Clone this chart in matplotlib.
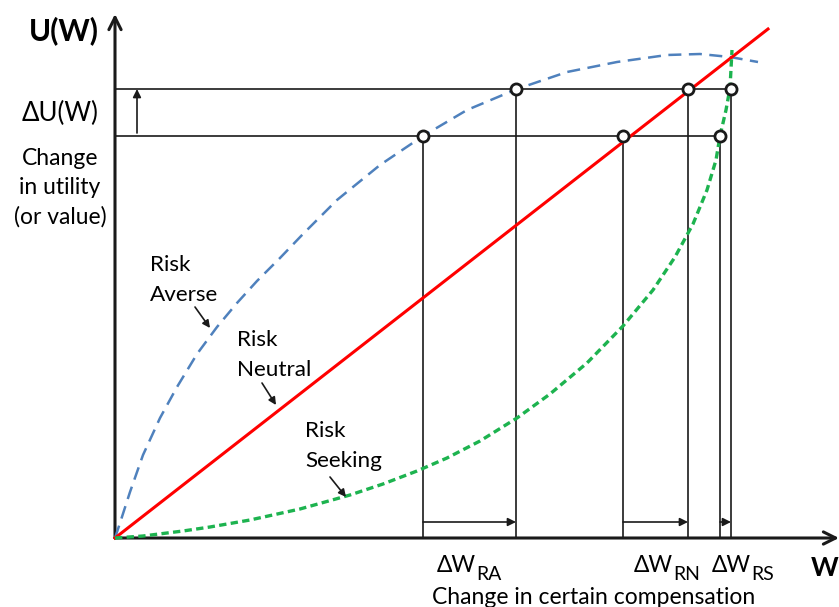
import numpy as np
import matplotlib.pyplot as plt

plt.rcParams['font.family'] = ['Lato', 'DejaVu Sans']

# ---------------------------------------------------------
# Curves (W, U(W)); origin at bottom-left
# ---------------------------------------------------------
averse_w = [0, 5, 15, 28, 45, 62, 82, 102, 122, 142, 165, 188, 222, 265, 308,
            352, 402, 452, 502, 552, 585, 615, 643]
averse_u = [0, 15, 46, 83, 120, 151, 184, 211, 235, 257, 280, 304, 338, 373, 402,
            428, 449, 466, 476, 483, 484, 481, 476]

neutral_w = [0, 653]
neutral_u = [0, 509]

seeking_w = [0, 28, 68, 95, 135, 185, 235, 268, 302, 332, 365, 402, 435, 472,
             508, 538, 560, 578, 592, 601, 605, 611, 615, 617]
seeking_u = [0, 2, 7, 11, 18, 29, 43, 54, 67, 80, 97, 120, 144, 175,
             212, 248, 281, 314, 348, 378, 402, 428, 450, 488]

# utility levels before / after the change
u_levels = [402, 449]
# certain compensation needed for each attitude (before, after)
w_ra = [308, 401]
w_rn = [508, 573]
w_rs = [605, 616]

fig = plt.figure(figsize=(8.39, 6.07), dpi=100)
ax = fig.add_axes([0, 0, 1, 1])
ax.set_xlim(-115, 724)
ax.set_ylim(-69, 538)
ax.axis('off')

blue = '#4f81bd'
green = '#1db34f'
red = '#ff0000'
black = '#1a1a1a'

# axes with arrow heads
ax.annotate('', xy=(0, 524), xytext=(0, 0),
            arrowprops=dict(arrowstyle='->', lw=2.2, color=black, shrinkA=0, shrinkB=0,
                            mutation_scale=22))
ax.annotate('', xy=(724, 0), xytext=(0, 0),
            arrowprops=dict(arrowstyle='->', lw=2.2, color=black, shrinkA=0, shrinkB=0,
                            mutation_scale=22))

# horizontal utility levels
ax.plot([0, w_rs[0]], [u_levels[0]] * 2, color=black, lw=1.2, zorder=2)
ax.plot([0, w_rs[1]], [u_levels[1]] * 2, color=black, lw=1.2, zorder=2)

# vertical drop lines
for pair in (w_ra, w_rn, w_rs):
    for w, u in zip(pair, u_levels):
        ax.plot([w, w], [0, u], color=black, lw=1.2, zorder=2)
    ax.annotate('', xy=(pair[1], 16), xytext=(pair[0], 16),
                arrowprops=dict(arrowstyle='-|>', lw=1.2, color=black, shrinkA=0, shrinkB=0,
                                mutation_scale=12))

# delta U arrow
ax.annotate('', xy=(22, u_levels[1]), xytext=(22, u_levels[0] + 3),
            arrowprops=dict(arrowstyle='-|>', lw=1.2, color=black, shrinkA=0, shrinkB=0,
                            mutation_scale=12))

# curves
ax.plot(averse_w, averse_u, color=blue, lw=1.8, dashes=(5.2, 3), zorder=3)
ax.plot(neutral_w, neutral_u, color=red, lw=2.2, zorder=3)
ax.plot(seeking_w, seeking_u, color=green, lw=2.4, dashes=(2.2, 1.3), zorder=3)

# circles where curves meet the utility levels
for pair in (w_ra, w_rn, w_rs):
    ax.plot(pair, u_levels, 'o', ms=8, mfc='white', mec=black, mew=2, zorder=5)

# labels
ax.text(-51, 507, 'U(W)', fontsize=21.5, fontweight='bold', ha='center', va='center')
ax.text(-55, 425, 'ΔU(W)', fontsize=18.5, ha='center', va='center')
ax.text(-55, 350, 'Change\nin utility\n(or value)', fontsize=16.5, ha='center',
        va='center', linespacing=1.48)

ax.text(35, 258, 'Risk\nAverse', fontsize=16.2, ha='left', va='center', linespacing=1.65)
ax.text(122, 183, 'Risk\nNeutral', fontsize=16.2, ha='left', va='center', linespacing=1.6)
ax.text(190, 92, 'Risk\nSeeking', fontsize=16.2, ha='left', va='center', linespacing=1.6)

for start, end in (((80, 231), (95, 210)), ((147, 155), (161, 133)), ((215, 61), (231, 41))):
    ax.annotate('', xy=end, xytext=start,
                arrowprops=dict(arrowstyle='-|>', lw=1.2, color=black, shrinkA=0, shrinkB=0,
                                mutation_scale=11))

for split, sub in ((361, 'RA'), (558, 'RN'), (636, 'RS')):
    ax.text(split, -28, 'ΔW', fontsize=16.5, ha='right', va='center')
    ax.text(split, -37, sub, fontsize=14, ha='left', va='center')

ax.text(696, -30, 'W', fontsize=19, fontweight='bold', ha='left', va='center')
ax.text(479, -59, 'Change in certain compensation', fontsize=16.5, ha='center', va='center')

fig.savefig('out.png', dpi=100)
